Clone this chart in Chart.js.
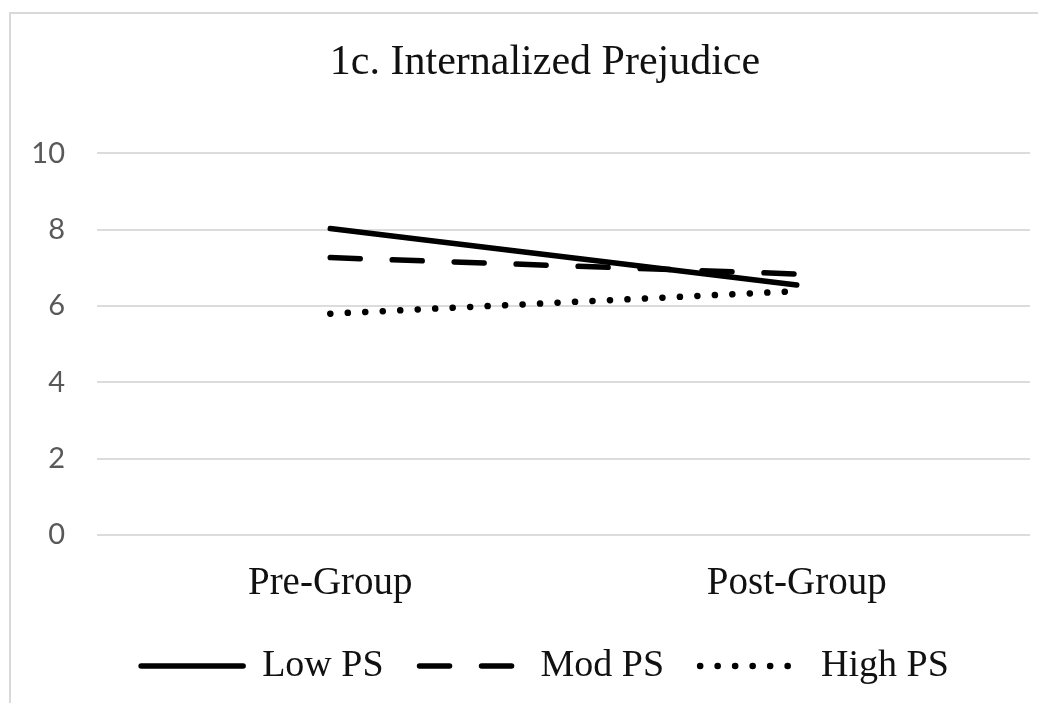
<!DOCTYPE html>
<html>
<head>
<meta charset="utf-8">
<script src="https://cdn.jsdelivr.net/npm/chart.js@4/dist/chart.umd.min.js"></script>
<style>
  html, body { margin: 0; padding: 0; background: #fff; overflow: hidden; }
  #wrap { width: 1038px; height: 703px; overflow: hidden; }
  canvas { display: block; }
</style>
</head>
<body>
<div id="wrap"><canvas id="c" width="1090" height="703"></canvas></div>
<script>
const categories = ['Pre-Group', 'Post-Group'];
const lowPS = [8.03, 6.55];
const modPS = [7.27, 6.84];
const highPS = [5.80, 6.39];
const yTicks = [0, 2, 4, 6, 8, 10];
const chartTitle = '1c. Internalized Prejudice';

const serif = '"Liberation Serif", "Times New Roman", serif';

const framePlugin = {
  id: 'frame',
  beforeDraw(chart) {
    const ctx = chart.ctx;
    ctx.save();
    ctx.fillStyle = '#fff';
    ctx.fillRect(0, 0, chart.width, chart.height);
    ctx.strokeStyle = '#d9d9d9';
    ctx.lineWidth = 2;
    ctx.beginPath();
    ctx.moveTo(10, chart.height + 5);
    ctx.lineTo(10, 13);
    ctx.lineTo(chart.width + 5, 13);
    ctx.stroke();
    ctx.restore();
  }
};

const ds = (label, data, dash, width) => ({
  label, data,
  borderColor: '#000',
  backgroundColor: '#000',
  borderWidth: width,
  borderDash: dash,
  borderCapStyle: 'round',
  pointRadius: 0,
  pointHoverRadius: 0,
  pointStyle: 'line',
  tension: 0,
  fill: false
});

new Chart(document.getElementById('c'), {
  type: 'line',
  data: {
    labels: categories,
    datasets: [
      ds('Low PS', lowPS, [], 5.5),
      ds('Mod PS', modPS, [30, 32], 5.5),
      ds('High PS', highPS, [0.1, 17.4], 6.5)
    ]
  },
  options: {
    responsive: false,
    animation: false,
    layout: { padding: { left: 0, right: 0, top: 13, bottom: 8 } },
    plugins: {
      title: {
        display: true,
        text: chartTitle,
        color: '#111',
        font: { family: serif, size: 42, weight: 'normal' },
        padding: { top: 25, bottom: 65 }
      },
      legend: {
        position: 'bottom',
        labels: {
          usePointStyle: true,
          pointStyleWidth: 102,
          padding: 36,
          color: '#111',
          font: { family: serif, size: 38 },
          generateLabels(chart) {
            const items = Chart.defaults.plugins.legend.labels.generateLabels(chart);
            items.forEach(it => {
              const d = chart.data.datasets[it.datasetIndex];
              it.lineDash = d.borderDash;
              it.lineCap = 'round';
              it.lineWidth = d.borderWidth;
              it.strokeStyle = '#000';
              it.pointStyle = 'line';
            });
            return items;
          }
        }
      },
      tooltip: { enabled: false }
    },
    scales: {
      x: {
        offset: true,
        grid: { display: false },
        border: { display: false },
        ticks: { color: '#111', font: { family: serif, size: 39 }, padding: 17 },
        afterFit(s) { s.height = 76; }
      },
      y: {
        min: 0, max: 10,
        afterBuildTicks(s) { s.ticks = yTicks.map(v => ({ value: v })); },
        grid: { color: '#dcdcdc', lineWidth: 2, drawTicks: false },
        border: { display: false },
        ticks: { color: '#595959', font: { family: 'Lato', size: 29 }, padding: 32 },
        afterFit(s) { s.width = 97; }
      },
      y2: {
        position: 'right',
        display: true,
        grid: { display: false },
        border: { display: false },
        ticks: { display: false },
        afterFit(s) { s.width = 60; }
      }
    }
  },
  plugins: [framePlugin]
});
</script>
</body>
</html>
